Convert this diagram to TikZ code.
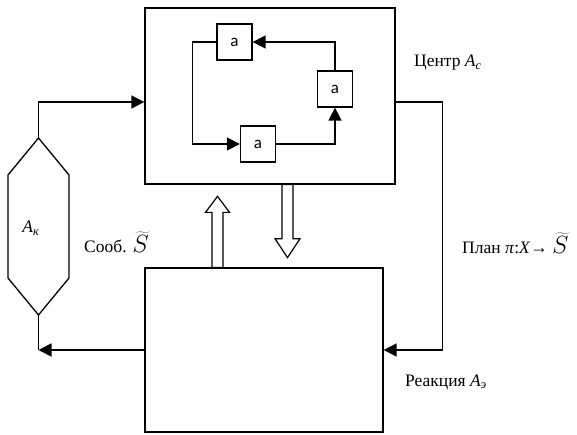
\documentclass[tikz,border=0pt]{standalone}
\usepackage{fontspec}
\setmainfont{Liberation Serif}
\newfontfamily\boxfont{Carlito}
\usepackage{xcolor}
\definecolor{LineBlack}{HTML}{000000}
\usetikzlibrary{arrows.meta,positioning,calc}
\tikzset{
  mainbox/.style={draw=LineBlack, line width=1.3pt, minimum width=#1, inner sep=0pt},
  abox/.style={draw=LineBlack, line width=1.3pt, minimum width=35pt, minimum height=36pt,
               inner sep=0pt, font=\boxfont\fontsize{17}{19}\selectfont},
  conn/.style={-{Triangle[length=13pt,width=13pt]}, line width=1.6pt, LineBlack},
  plainconn/.style={line width=1.6pt, LineBlack},
  hollowarr/.style={draw=LineBlack, line width=1.2pt, fill=white, line join=miter},
  lbl/.style={anchor=base west, inner sep=0pt, font=\fontsize{17.5}{19}\selectfont}
}
\newcommand{\tS}{{\fontsize{28}{30}\selectfont$\widetilde{S}$}}
\begin{document}
\begin{tikzpicture}[x=1pt, y=1pt]
\useasboundingbox (0,0) rectangle (577,434);
% main blocks
\node[mainbox=250pt, minimum height=176pt] (center) at (270,338) {};
\node[mainbox=238pt, minimum height=164pt] (env) at (264,84) {};
% coordinator hexagon
\coordinate (kt) at (38.5,296);
\coordinate (kb) at (38.5,119);
\draw[line width=1.3pt] (kt) -- (69,259) -- (69,156) -- (kb) -- (8,156) -- (8,259) -- cycle;
\node[inner sep=0pt, font=\fontsize{17.5}{19}\selectfont] (klbl) at (31,206) {\textit{A}\textsubscript{\textit{к}}};
% inner loop
\node[abox] (a1) at (234.5,392) {a};
\node[abox] (a2) at (335,345) {a};
\node[abox] (a3) at (258,290) {a};
\draw[conn] (a1.west) -- ++(-24,0) |- (a3.west);
\draw[conn] (a3.east) -| (a2.south);
\draw[conn] (a2.north) |- (a1.east);
% outer connectors
\draw[conn] (kt) |- ([yshift=-6pt]center.west);
\draw[plainconn] (kb) -- (kb |- env.west);
\draw[conn] (env.west) -- (kb |- env.west);
\draw[conn] ([yshift=-6pt]center.east) -- ++(47,0) |- (env.east);
% hollow arrows
\draw[hollowarr] ([xshift=-46.5pt]env.north) ++(-5.5,0) -- ++(0,55) -- ++(-6.5,0)
  -- ++(12,16) -- ++(12,-16) -- ++(-6.5,0) -- ++(0,-55) -- cycle;
\draw[hollowarr] ([xshift=17.5pt]center.south) ++(-5.5,0) -- ++(0,-54) -- ++(-7,0)
  -- ++(12.5,-19) -- ++(12.5,19) -- ++(-7,0) -- ++(0,54) -- cycle;
% labels
\node[lbl] (lcenter) at (414,367) {Центр \textit{A}\textsubscript{\textit{с}}};
\node[lbl] (lplan) at (462,181) {План \textit{π}:\textit{X}→ \tS};
\node[lbl] (lreact) at (405,48) {Реакция \textit{A}\textsubscript{\textit{э}}};
\node[lbl] (lmsg) at (84,182) {Сооб. \tS};
\end{tikzpicture}
\end{document}
